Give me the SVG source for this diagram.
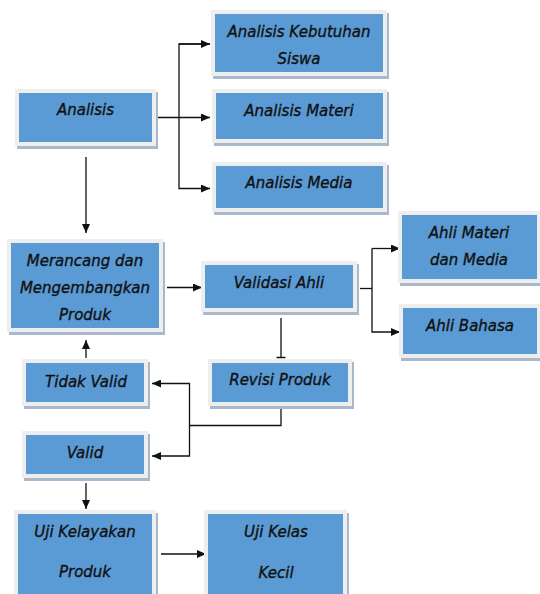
<svg xmlns="http://www.w3.org/2000/svg" width="540" height="594" viewBox="0 0 540 594">
<style>
.sh{fill:#a9b8cc}
.fr{fill:#eeeeee}
.in{fill:#5b9bd5}
text{font-family:"DejaVu Sans","Liberation Sans",sans-serif;font-style:italic;font-size:15px;fill:#111;stroke:#111;stroke-width:0.35;text-anchor:middle}
.c{fill:none;stroke:#111;stroke-width:1.3}
</style>
<defs>
<marker id="ar" markerWidth="10" markerHeight="8" refX="9" refY="4" orient="auto" markerUnits="userSpaceOnUse">
<path d="M0,0 L9,4 L0,8 Z" fill="#111"/>
</marker>
</defs>
<rect width="540" height="594" fill="#fff"/>
<g id="connectors">
<path class="c" d="M158,117.5 H210" marker-end="url(#ar)"/>
<path class="c" d="M210,44 H179 V188.5 H210" marker-end="url(#ar)"/>
<path class="c" d="M179,44 H210" marker-end="url(#ar)"/>
<path class="c" d="M86,157 V233" marker-end="url(#ar)"/>
<path class="c" d="M167,287.5 H202" marker-end="url(#ar)"/>
<path class="c" d="M360,288.5 H372"/>
<path class="c" d="M372,248.5 V332 H400" marker-end="url(#ar)"/>
<path class="c" d="M372,248.5 H400" marker-end="url(#ar)"/>
<path class="c" d="M281,318 V357.5 M276.5,357.5 H285.5"/>
<path class="c" d="M281,409 V425.5 H189.5 V383.5 H152" marker-end="url(#ar)"/>
<path class="c" d="M189.5,425.5 V456 H152" marker-end="url(#ar)"/>
<path class="c" d="M86,358 V340" marker-end="url(#ar)"/>
<path class="c" d="M86,483 V509" marker-end="url(#ar)"/>
<path class="c" d="M161,554 H206" marker-end="url(#ar)"/>
</g>
<g id="analisis">
<rect class="sh" x="17" y="92" width="141" height="57"/><rect class="fr" x="15" y="89" width="141" height="57"/><rect class="in" x="19" y="93" width="133" height="49"/>
<text x="85.5" y="115">Analisis</text>
</g>
<g id="analisis-kebutuhan">
<rect class="sh" x="213" y="13" width="176" height="66"/><rect class="fr" x="211" y="10" width="176" height="66"/><rect class="in" x="215" y="14" width="168" height="58"/>
<text x="299" y="37">Analisis Kebutuhan</text><text x="299" y="64">Siswa</text>
</g>
<g id="analisis-materi">
<rect class="sh" x="214" y="92" width="175" height="54"/><rect class="fr" x="212" y="89" width="175" height="54"/><rect class="in" x="216" y="93" width="167" height="46"/>
<text x="299" y="116">Analisis Materi</text>
</g>
<g id="analisis-media">
<rect class="sh" x="214" y="165" width="175" height="50"/><rect class="fr" x="212" y="162" width="175" height="50"/><rect class="in" x="216" y="166" width="167" height="42"/>
<text x="299" y="188">Analisis Media</text>
</g>
<g id="ahli-materi-media">
<rect class="sh" x="400" y="214" width="143" height="72"/><rect class="fr" x="398" y="211" width="143" height="72"/><rect class="in" x="402" y="215" width="135" height="64"/>
<text x="469" y="238">Ahli Materi</text><text x="469" y="265">dan Media</text>
</g>
<g id="ahli-bahasa">
<rect class="sh" x="401" y="307" width="142" height="54"/><rect class="fr" x="399" y="304" width="142" height="54"/><rect class="in" x="403" y="308" width="134" height="46"/>
<text x="470" y="331">Ahli Bahasa</text>
</g>
<g id="validasi-ahli">
<rect class="sh" x="203" y="264" width="156" height="51"/><rect class="fr" x="201" y="261" width="156" height="51"/><rect class="in" x="205" y="265" width="148" height="43"/>
<text x="279" y="288">Validasi Ahli</text>
</g>
<g id="merancang">
<rect class="sh" x="9" y="242" width="156" height="93"/><rect class="fr" x="7" y="239" width="156" height="93"/><rect class="in" x="11" y="243" width="148" height="85"/>
<text x="85" y="266">Merancang dan</text><text x="85" y="293">Mengembangkan</text><text x="85" y="320">Produk</text>
</g>
<g id="tidak-valid">
<rect class="sh" x="24" y="362" width="126" height="47"/><rect class="fr" x="22" y="359" width="126" height="47"/><rect class="in" x="26" y="363" width="118" height="39"/>
<text x="86" y="387">Tidak Valid</text>
</g>
<g id="revisi-produk">
<rect class="sh" x="210" y="362" width="144" height="47"/><rect class="fr" x="208" y="359" width="144" height="47"/><rect class="in" x="212" y="363" width="136" height="39"/>
<text x="280" y="385">Revisi Produk</text>
</g>
<g id="valid">
<rect class="sh" x="24" y="434" width="126" height="47"/><rect class="fr" x="22" y="431" width="126" height="47"/><rect class="in" x="26" y="435" width="118" height="39"/>
<text x="85" y="458">Valid</text>
</g>
<g id="uji-kelayakan">
<rect class="sh" x="16" y="513" width="142" height="98"/><rect class="fr" x="14" y="510" width="142" height="98"/><rect class="in" x="18" y="514" width="134" height="90"/>
<text x="85" y="537">Uji Kelayakan</text><text x="85" y="577">Produk</text>
</g>
<g id="uji-kelas">
<rect class="sh" x="206" y="513" width="143" height="98"/><rect class="fr" x="204" y="510" width="143" height="98"/><rect class="in" x="208" y="514" width="135" height="90"/>
<text x="276" y="537">Uji Kelas</text><text x="276" y="578">Kecil</text>
</g>
</svg>
